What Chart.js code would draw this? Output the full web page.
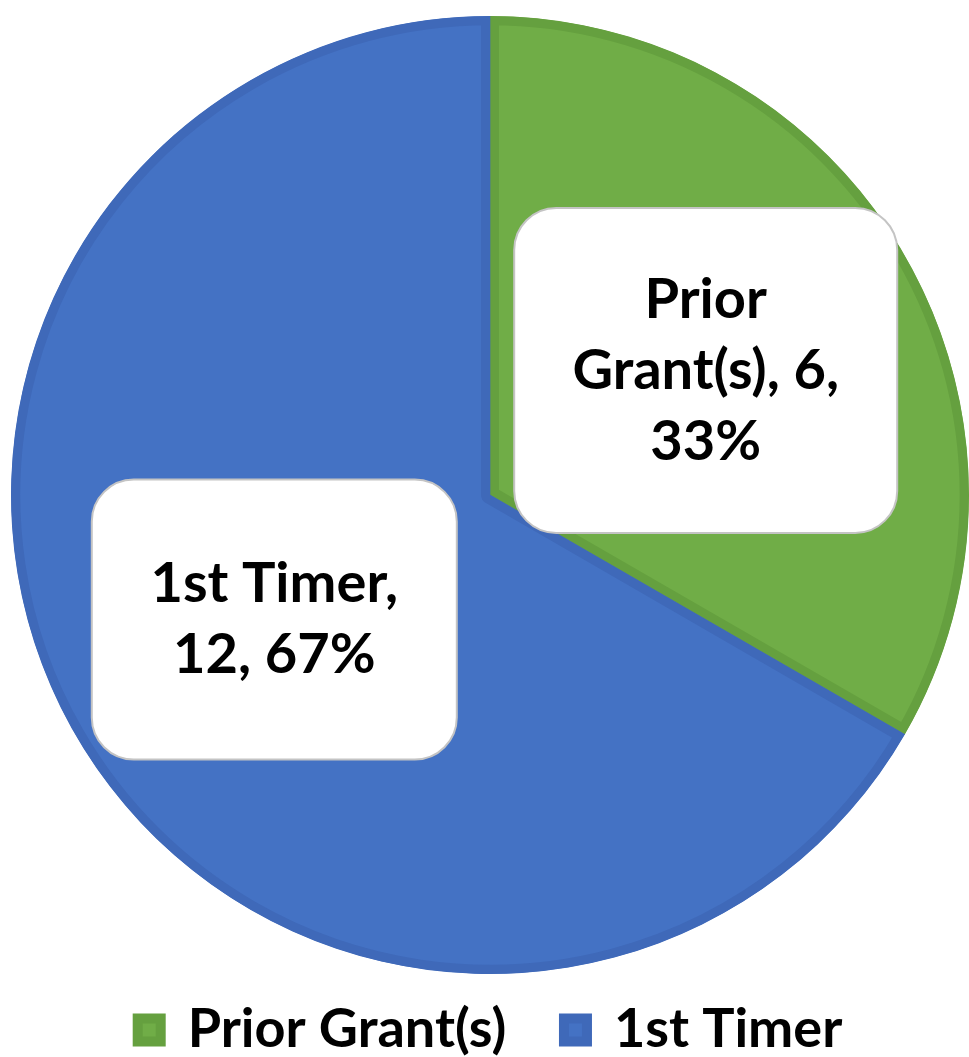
<!DOCTYPE html>
<html lang="en">
<head>
    <meta charset="UTF-8">
    <title>Prior Grant(s) vs 1st Timer</title>
    <script src="https://cdn.jsdelivr.net/npm/chart.js"></script>
    <style>
        body {
            margin: 0;
            background-color: #fff;
        }

        .chart-container {
            width: 969px;
            height: 1057px;
        }
    </style>
</head>
<body>

    <div class="chart-container">
        <canvas id="pieChart"></canvas>
    </div>

    <script>
        // chart data
        const categories = ['Prior Grant(s)', '1st Timer'];
        const counts = [6, 12];

        // slice colours
        const fillColors = ['#70AD47', '#4472C4'];
        const edgeColors = ['#65A03F', '#3F69B9'];

        const FONT = 'Lato, "Open Sans", sans-serif';

        // white rounded callout boxes with "name, count, percent"
        const calloutPlugin = {
            id: 'callouts',
            afterDatasetsDraw(chart, args, opts) {
                const ctx = chart.ctx;
                const meta = chart.getDatasetMeta(0);
                const total = counts.reduce((a, b) => a + b, 0);

                meta.data.forEach((arc, i) => {
                    const p = arc.getProps(['x', 'y', 'startAngle', 'endAngle', 'outerRadius'], true);
                    const mid = (p.startAngle + p.endAngle) / 2;
                    const cx = p.x + Math.cos(mid) * p.outerRadius * opts.radiusFactor;
                    const cy = p.y + Math.sin(mid) * p.outerRadius * opts.radiusFactor;
                    const w = opts.boxSizes[i][0];
                    const h = opts.boxSizes[i][1];

                    ctx.save();
                    ctx.beginPath();
                    ctx.roundRect(cx - w / 2, cy - h / 2, w, h, opts.cornerRadius);
                    ctx.fillStyle = '#fff';
                    ctx.fill();
                    ctx.lineWidth = 2;
                    ctx.strokeStyle = '#C4C4C4';
                    ctx.stroke();

                    ctx.font = 'bold ' + opts.fontSize + 'px ' + FONT;
                    ctx.fillStyle = '#000';
                    ctx.textAlign = 'center';
                    ctx.textBaseline = 'middle';

                    // word wrap to the box
                    const pct = Math.round(counts[i] / total * 100) + '%';
                    const words = (categories[i] + ', ' + counts[i] + ', ' + pct).split(' ');
                    const maxW = w - opts.sidePad * 2;
                    const lines = [];
                    let line = '';
                    words.forEach(word => {
                        const test = line ? line + ' ' + word : word;
                        if (line && ctx.measureText(test).width > maxW) {
                            lines.push(line);
                            line = word;
                        } else {
                            line = test;
                        }
                    });
                    lines.push(line);

                    const top = cy - (lines.length - 1) * opts.lineHeight / 2;
                    lines.forEach((l, k) => {
                        ctx.fillText(l, cx, top + k * opts.lineHeight);
                    });
                    ctx.restore();
                });
            }
        };

        const ctx = document.getElementById('pieChart').getContext('2d');

        new Chart(ctx, {
            type: 'pie',
            data: {
                labels: categories,
                datasets: [{
                    data: counts,
                    backgroundColor: fillColors,
                    borderColor: edgeColors,
                    borderWidth: 9,
                    borderAlign: 'inner'
                }]
            },
            options: {
                responsive: true,
                maintainAspectRatio: false,
                animation: false,
                layout: {
                    padding: { top: 11, left: 11, right: 0, bottom: -10 }
                },
                plugins: {
                    tooltip: { enabled: false },
                    legend: {
                        position: 'bottom',
                        labels: {
                            color: '#000',
                            boxWidth: 23,
                            boxHeight: 23,
                            padding: 24,
                            font: { family: FONT, size: 54, weight: 'bold', lineHeight: 1 },
                            generateLabels(chart) {
                                const items = Chart.overrides.pie.plugins.legend.labels.generateLabels(chart);
                                items.forEach((it, i) => {
                                    it.lineWidth = 10;
                                    // wider gap between the two entries
                                    if (i < items.length - 1) it.text += '\u2002\u2009';
                                });
                                return items;
                            }
                        }
                    },
                    callouts: {
                        radiusFactor: 0.52,
                        boxSizes: [[383, 325], [365, 280]],
                        cornerRadius: 42,
                        fontSize: 56,
                        lineHeight: 71,
                        sidePad: 30
                    }
                }
            },
            plugins: [calloutPlugin]
        });
    </script>

</body>
</html>
